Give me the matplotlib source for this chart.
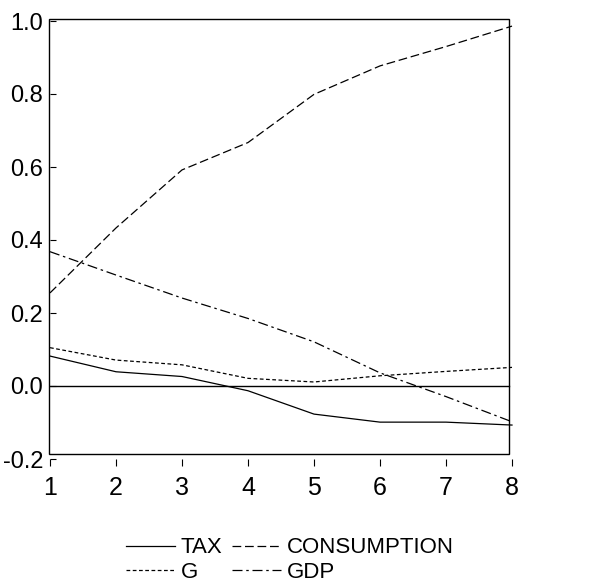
import matplotlib.pyplot as plt
from matplotlib.patches import Rectangle

plt.rcParams['font.family'] = ['Liberation Sans', 'DejaVu Sans']

periods = [1, 2, 3, 4, 5, 6, 7, 8]
tax = [0.082, 0.039, 0.026, -0.013, -0.077, -0.099, -0.099, -0.107]
consumption = [0.255, 0.433, 0.592, 0.667, 0.799, 0.877, 0.930, 0.986]
g = [0.105, 0.071, 0.058, 0.021, 0.011, 0.028, 0.040, 0.051]
gdp = [0.368, 0.304, 0.241, 0.185, 0.121, 0.036, -0.029, -0.098]

W, H = 610, 584
fig = plt.figure(figsize=(W / 100, H / 100), dpi=100)
# axes mapped so that x=1..8 -> px 50..512 and y=-0.2..1.0 -> px 459..21
ax = fig.add_axes([50 / W, (H - 459) / H, (512 - 50) / W, (459 - 21) / H])
ax.set_xlim(1, 8)
ax.set_ylim(-0.2, 1.0)
for s in ax.spines.values():
    s.set_visible(False)

# frame box, slightly inside the data range as in the original
ax.add_patch(Rectangle((0.985, -0.186), 7.955 - 0.985, 1.005 + 0.186,
                       fill=False, lw=1.0, ec='black', clip_on=False, zorder=3))

lw = 0.9
ax.axhline(0, xmin=-0.002, xmax=0.994, color='black', lw=1.0)
ax.plot(periods, tax, color='black', lw=lw, label='TAX', clip_on=False)
ax.plot(periods, g, color='black', lw=lw, dashes=(3, 2), label='G', clip_on=False)
ax.plot(periods, consumption, color='black', lw=lw, dashes=(7, 3), label='CONSUMPTION', clip_on=False)
ax.plot(periods, gdp, color='black', lw=lw, dashes=(8, 3, 2, 3), label='GDP', clip_on=False)

ax.set_yticks([-0.2, 0.0, 0.2, 0.4, 0.6, 0.8, 1.0])
ax.set_yticklabels(['-0.2', '0.0', '0.2', '0.4', '0.6', '0.8', '1.0'])
ax.set_xticks(periods)
ax.tick_params(axis='y', direction='in', length=4, width=0.8, pad=5, labelsize=17)
ax.tick_params(axis='x', direction='out', length=5, width=0.8, pad=7, labelsize=18)

fig.legend(loc='center', bbox_to_anchor=(290 / W, 1 - 560 / H), ncol=2, frameon=False,
           fontsize=16, handlelength=2.2, handletextpad=0.25, columnspacing=0.45,
           labelspacing=0.15, borderpad=0)

fig.savefig('out.png', dpi=100)
